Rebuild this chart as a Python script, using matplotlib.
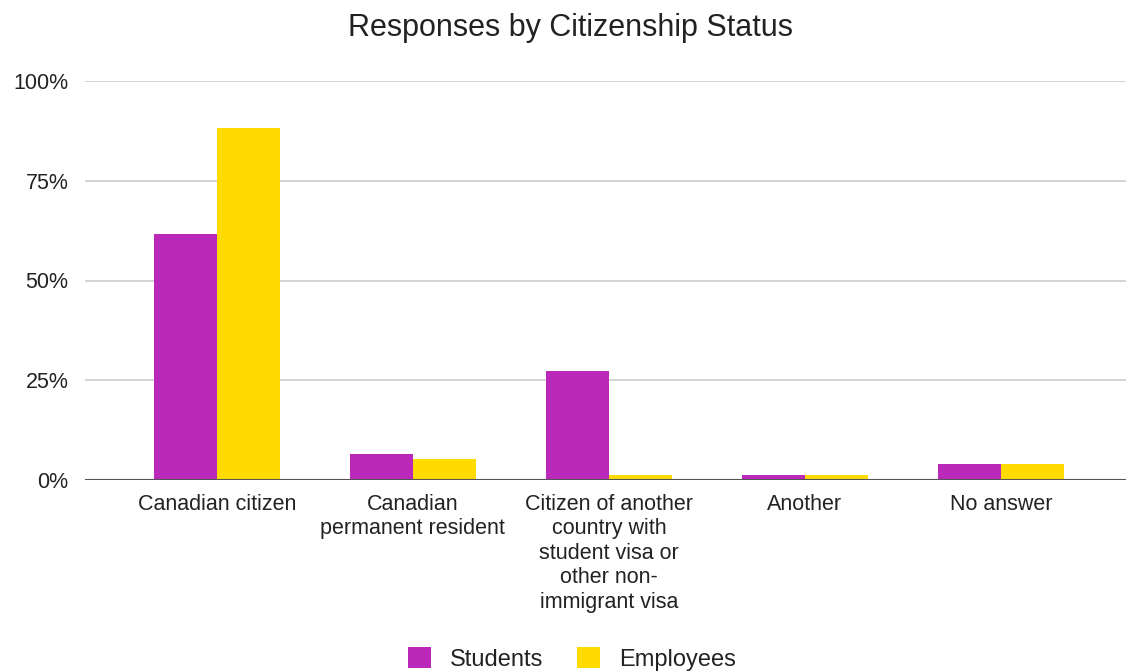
import numpy as np
import matplotlib.pyplot as plt

plt.rcParams['font.family'] = ['Liberation Sans', 'DejaVu Sans']

categories = [
    'Canadian citizen',
    'Canadian\npermanent resident',
    'Citizen of another\ncountry with\nstudent visa or\nother non-\nimmigrant visa',
    'Another',
    'No answer',
]
students = [61.7, 6.4, 27.3, 1.2, 4.1]
employees = [88.2, 5.3, 1.2, 1.2, 4.1]
y_ticks = [0, 25, 50, 75, 100]
y_tick_labels = ['0%', '25%', '50%', '75%', '100%']

purple = '#bb29bb'
yellow = '#ffdb00'
text_color = '#222222'

fig = plt.figure(figsize=(11.26, 6.72), dpi=100)
ax = fig.add_axes([85 / 1126, 1 - 480 / 672, 1 - 85 / 1126, 399 / 672])

x = np.arange(len(categories))
w = 0.322
ax.bar(x - w / 2, students, width=w, color=purple, label='Students', zorder=3)
ax.bar(x + w / 2, employees, width=w, color=yellow, label='Employees', zorder=3)

ax.set_xlim(-0.673, 4.638)
ax.set_ylim(0, 100)
ax.set_yticks(y_ticks)
ax.set_yticklabels(y_tick_labels)
ax.set_xticks(x)
ax.set_xticklabels(categories, linespacing=1.22)

ax.grid(axis='y', color='#cccccc', linewidth=1.2, zorder=0)
ax.axhline(0, color='#555555', linewidth=1.5, zorder=4)
for side in ['top', 'right', 'left', 'bottom']:
    ax.spines[side].set_visible(False)
ax.tick_params(axis='both', length=0, labelsize=15.5, colors=text_color)
ax.tick_params(axis='y', pad=12)
ax.tick_params(axis='x', pad=10)

fig.suptitle('Responses by Citizenship Status', x=0.507, y=0.98,
             fontsize=22, color=text_color, va='top')

leg = fig.legend(loc='lower center', bbox_to_anchor=(0.508, -0.03), ncol=2,
                 frameon=False, fontsize=17, handlelength=1, handleheight=1,
                 handletextpad=0.8, columnspacing=1.4)
for t in leg.get_texts():
    t.set_color(text_color)

fig.savefig('out.png', dpi=100)
